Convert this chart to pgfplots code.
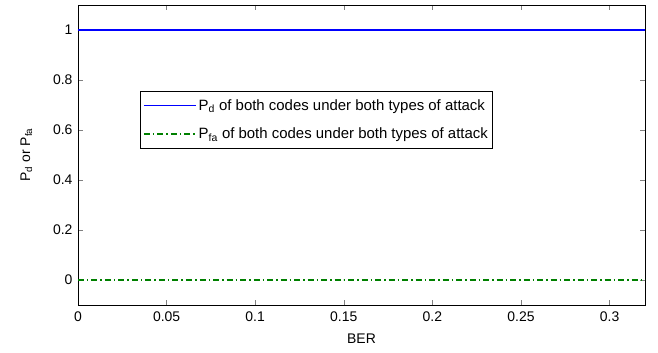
\documentclass[border=0pt]{standalone}
\usepackage{pgfplots}
\pgfplotsset{compat=1.18}
\usepackage{fontspec}
\setmainfont{Liberation Sans}
\definecolor{mgreen}{rgb}{0,0.5,0}
\pgfplotsset{legend image code/.code={\draw[#1] (0bp,0bp) -- (52bp,0bp);}}
\begin{document}
\begin{tikzpicture}
\path (-78bp,-48bp) rectangle (580bp,305bp);
\begin{axis}[
  at={(0bp,0bp)}, anchor=south west,
  width=567bp, height=300bp, scale only axis,
  xmin=0, xmax=0.32, ymin=-0.1, ymax=1.1,
  xtick={0,0.05,0.1,0.15,0.2,0.25,0.3},
  ytick={0,0.2,0.4,0.6,0.8,1},
  xticklabels={0,0.05,0.1,0.15,0.2,0.25,0.3},
  yticklabels={0,0.2,0.4,0.6,0.8,1},
  tick align=inside, major tick length=5bp,
  xtick pos=both, ytick pos=both,
  ticklabel style={font=\fontsize{14}{16}\selectfont},
  label style={font=\fontsize{14}{16}\selectfont},
  xticklabel style={yshift=-3bp},
  yticklabel style={xshift=-2bp},
  xlabel={BER}, ylabel={P\textsubscript{d} or P\textsubscript{fa}},
  ylabel shift=14bp,
  xlabel shift=6bp,
  axis line style={line width=0.8pt},
  legend style={at={(0.109,0.713)}, anchor=north west,
    font=\fontsize{15}{17}\selectfont, draw=black, line width=0.8pt,
    row sep=12bp, inner xsep=3bp, inner ysep=6bp},
  legend cell align=left,
]
\addplot[draw=blue, line width=1.5pt] coordinates {(0,1) (0.05,1) (0.1,1) (0.15,1) (0.2,1) (0.25,1) (0.3,1) (0.32,1)};
\addlegendentry{P\textsubscript{d} of both codes under both types of attack}
\addplot[draw=mgreen, line width=1.3pt, dash pattern=on 6bp off 3bp on 1.5bp off 3bp] coordinates {(0,0) (0.05,0) (0.1,0) (0.15,0) (0.2,0) (0.25,0) (0.3,0) (0.32,0)};
\addlegendentry{P\textsubscript{fa} of both codes under both types of attack}
\end{axis}
\end{tikzpicture}
\end{document}
